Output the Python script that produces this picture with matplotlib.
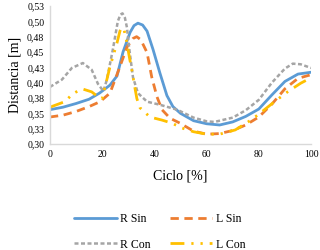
import matplotlib
matplotlib.use('Agg')
import matplotlib.pyplot as plt

plt.rcParams['font.family'] = ['Liberation Serif', 'DejaVu Serif']

# Data (ciclo %, distancia m)
r_sin_x = [0, 5, 10, 15, 19, 23, 25.7, 28, 30.7, 32.2, 33.7, 35.5, 37.2, 39.5, 42.1, 44.8, 47.1, 50, 55, 60, 65, 70, 75, 80, 85, 90, 95, 100]
r_sin_y = [0.356, 0.360, 0.366, 0.373, 0.383, 0.396, 0.411, 0.450, 0.482, 0.493, 0.497, 0.494, 0.484, 0.454, 0.416, 0.379, 0.361, 0.350, 0.338, 0.333, 0.331, 0.336, 0.345, 0.357, 0.380, 0.402, 0.414, 0.417]

l_sin_x = [0, 5, 10, 15, 19.2, 23, 26.8, 29.5, 31.8, 33.2, 34.8, 37.2, 39, 41, 42.9, 46, 49.8, 55, 60, 65, 70, 75, 80, 85, 90, 95, 100]
l_sin_y = [0.344, 0.347, 0.353, 0.361, 0.369, 0.383, 0.426, 0.458, 0.472, 0.475, 0.470, 0.449, 0.409, 0.377, 0.356, 0.342, 0.334, 0.321, 0.316, 0.317, 0.322, 0.331, 0.344, 0.365, 0.390, 0.407, 0.413]

r_con_x = [0, 4.6, 8.4, 12.6, 16, 18.4, 20.5, 21.8, 24.1, 26, 27, 27.8, 28.7, 29.5, 30.3, 31.8, 33.7, 37.2, 42.1, 48.7, 55, 60, 63, 70, 75, 80, 85, 90, 93, 96, 100]
r_con_y = [0.393, 0.405, 0.424, 0.432, 0.421, 0.398, 0.386, 0.405, 0.454, 0.500, 0.511, 0.513, 0.506, 0.490, 0.458, 0.409, 0.383, 0.369, 0.364, 0.356, 0.343, 0.337, 0.336, 0.343, 0.355, 0.372, 0.400, 0.423, 0.431, 0.430, 0.424]

l_con_x = [0, 5.7, 8.8, 12.3, 16, 18.4, 20, 21.8, 23, 25.7, 26.8, 27.6, 28.4, 29.4, 30.4, 31.4, 32.4, 33.3, 34.5, 38.3, 42.9, 46.7, 50.6, 55, 60, 65, 71, 77, 81, 86, 91, 96, 100]
l_con_y = [0.360, 0.369, 0.382, 0.390, 0.385, 0.377, 0.374, 0.405, 0.426, 0.465, 0.484, 0.490, 0.486, 0.467, 0.442, 0.420, 0.395, 0.374, 0.359, 0.344, 0.339, 0.334, 0.326, 0.320, 0.316, 0.316, 0.323, 0.339, 0.352, 0.369, 0.385, 0.399, 0.408]

y_ticks = [0.30, 0.325, 0.35, 0.375, 0.40, 0.425, 0.45, 0.475, 0.50, 0.525]
y_tick_labels = ['0,30', '0,33', '0,35', '0,38', '0,40', '0,43', '0,45', '0,48', '0,50', '0,53']
x_ticks = [0, 20, 40, 60, 80, 100]

fig = plt.figure(figsize=(3.2, 2.5), dpi=100)
ax = fig.add_axes([0.156, 0.424, 0.816, 0.552])

lw = 2.0
l1, = ax.plot(r_sin_x, r_sin_y, color='#5B9BD5', lw=lw, label='R Sin', solid_capstyle='round', solid_joinstyle='round')
l2, = ax.plot(l_sin_x, l_sin_y, color='#ED7D31', lw=lw, label='L Sin', dashes=(3, 2))
l3, = ax.plot(r_con_x, r_con_y, color='#A5A5A5', lw=lw * 0.9, label='R Con', dashes=(1.6, 1))
l4, = ax.plot(l_con_x, l_con_y, color='#FFC000', lw=lw, label='L Con', dashes=(5, 2.5, 0.8, 2.5, 0.8, 2.5))

ax.set_xlim(0, 100)
ax.set_ylim(0.30, 0.525)
ax.set_xticks(x_ticks)
ax.set_yticks(y_ticks)
ax.set_yticklabels(y_tick_labels)
ax.tick_params(length=0, labelsize=7, pad=4)

for side in ['top', 'right']:
    ax.spines[side].set_visible(False)
for side in ['left', 'bottom']:
    ax.spines[side].set_color('#D9D9D9')
    ax.spines[side].set_linewidth(1)

ax.set_xlabel('Ciclo [%]', fontsize=10, labelpad=8)
ax.set_ylabel('Distancia [m]', fontsize=10, labelpad=4)

# column-wise fill: R Sin / R Con in col 1, L Sin / L Con in col 2
fig.legend(handles=[l1, l3, l2, l4], loc='upper center', bbox_to_anchor=(0.5, 0.148), ncol=2, frameon=False,
           fontsize=8.5, handlelength=3.6, handletextpad=0.3, columnspacing=1.6,
           labelspacing=1.15, borderaxespad=0, borderpad=0)

fig.savefig('out.png', dpi=100)
